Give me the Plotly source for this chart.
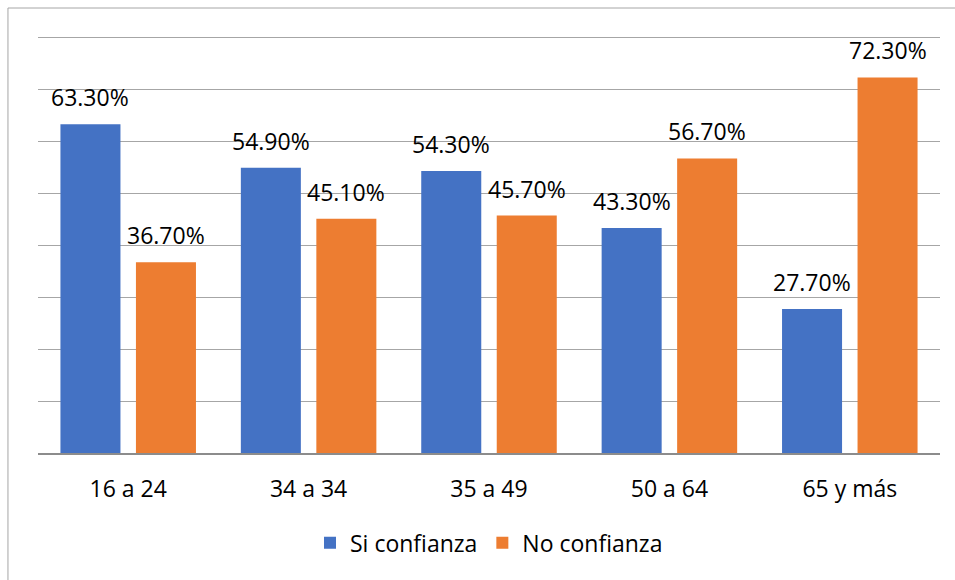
import plotly.graph_objects as go

categories = ["16 a 24", "34 a 34", "35 a 49", "50 a 64", "65 y más"]
si_confianza = [63.3, 54.9, 54.3, 43.3, 27.7]
no_confianza = [36.7, 45.1, 45.7, 56.7, 72.3]
series_names = ["Si confianza", "No confianza"]
series_colors = ["#4472C4", "#ED7D31"]

FONT = "Open Sans"
TEXT_SIZE = 23

fig = go.Figure()
for name, vals, color in zip(series_names, [si_confianza, no_confianza], series_colors):
    fig.add_trace(go.Bar(
        x=categories, y=vals, name=name,
        marker=dict(color=color, line=dict(width=0)),
    ))

# Value labels above each bar, shifted to the left / right bar of the group
for vals, shift in [(si_confianza, -37.7), (no_confianza, 37.7)]:
    for cat, v in zip(categories, vals):
        fig.add_annotation(
            x=cat, y=v, text=f"{v:.2f}%", showarrow=False,
            xshift=shift, yshift=27, yanchor="middle", xanchor="center",
            font=dict(family=FONT, size=TEXT_SIZE, color="#000000"),
        )

# Chart border
fig.add_shape(
    type="rect", xref="paper", yref="paper",
    x0=-0.0333, y0=-0.33, x1=1.03, y1=1.0446,
    line=dict(color="#a6a6a6", width=1), fillcolor="rgba(0,0,0,0)",
    layer="below",
)

fig.update_layout(
    width=955, height=580,
    margin=dict(l=38, r=15, t=27, b=127),
    paper_bgcolor="white", plot_bgcolor="white",
    barmode="group", bargap=0.163, bargroupgap=0.205,
    font=dict(family=FONT, size=TEXT_SIZE, color="#000000"),
    showlegend=True,
    legend=dict(
        orientation="h", x=0.5, xanchor="center", y=-0.211, yanchor="middle",
        font=dict(family=FONT, size=TEXT_SIZE, color="#000000"),
        itemwidth=30, traceorder="normal",
    ),
    xaxis=dict(
        showline=True, linecolor="#8c8c8c", linewidth=2,
        showgrid=False, ticks="", ticklabelstandoff=14,
        tickfont=dict(family=FONT, size=TEXT_SIZE, color="#000000"),
    ),
    yaxis=dict(
        range=[0, 82], tickvals=[10, 20, 30, 40, 50, 60, 70, 80],
        showticklabels=False,
        showgrid=True, gridcolor="#a6a6a6", gridwidth=1,
        zeroline=False, showline=False, ticks="",
    ),
)

fig.write_html("out.html")
